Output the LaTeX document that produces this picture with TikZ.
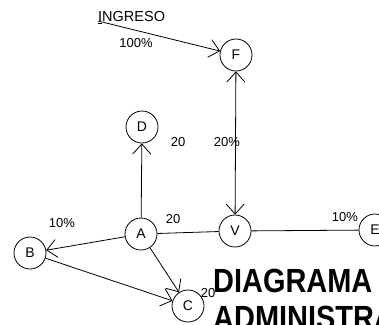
\documentclass[tikz,border=0pt]{standalone}
\usepackage{fontspec}
\setmainfont{Liberation Sans}
\usetikzlibrary{arrows.meta}
\begin{document}
\begin{tikzpicture}[x=1pt,y=-1pt,
  every node/.style={font=\fontsize{13}{13}\selectfont},
  vert/.style={draw,circle,minimum size=32pt,inner sep=0pt,line width=0.8pt,font=\fontsize{14}{14}\selectfont},
  lbl/.style={inner sep=0pt},
  conn/.style={line width=0.8pt},
  arr/.style={conn,-{Straight Barb[length=10pt,width=18pt,line width=0.8pt]}},
  darr/.style={conn,{Straight Barb[length=10pt,width=18pt,line width=0.8pt]}-{Straight Barb[length=10pt,width=18pt,line width=0.8pt]}},
  title/.style={inner sep=0pt,anchor=base west,font=\fontsize{33.5}{33.5}\selectfont\bfseries}]
\useasboundingbox (0,0) rectangle (379,324);
\clip (0,0) rectangle (379,324);
\node[vert] (F) at (236,55) {F};
\node[vert] (D) at (142,127) {D};
\node[vert] (A) at (141,234) {A};
\node[vert] (V) at (235,231) {V};
\node[vert] (B) at (30,253) {B};
\node[vert] (C) at (188,306) {C};
\node[vert] (E) at (375,230) {E};
\node[lbl,anchor=base west,font=\fontsize{14.5}{14.5}\selectfont] (ing) at (98,21.5) {\underline{I}NGRESO};
\coordinate (ingS) at (98,21);
\node[lbl] (p100) at (136,43) {100\%};
\node[lbl] (l20d) at (178,142) {20};
\node[lbl] (l20f) at (227,142) {20\%};
\node[lbl] (l20a) at (173,219) {20};
\node[lbl] (l10b) at (62,223) {10\%};
\node[lbl] (l20c) at (208,293) {20};
\node[lbl] (l10e) at (345,217) {10\%};
\draw[arr] (ingS) -- (F);
\draw[darr] (F) -- (V);
\draw[arr] (A) -- (D);
\draw[conn] (A) -- (V);
\draw[conn] (V) -- (E);
\draw[arr] (A) -- (B);
\draw[arr] (A) -- (C);
\draw[arr] (B) -- (C);
\node[title] (t1) at (213,292) {\scalebox{0.864}[1]{DIAGRAMA}};
\node[title] (t2) at (213,329) {\scalebox{0.864}[1]{ADMINISTRA}};
\end{tikzpicture}
\end{document}
